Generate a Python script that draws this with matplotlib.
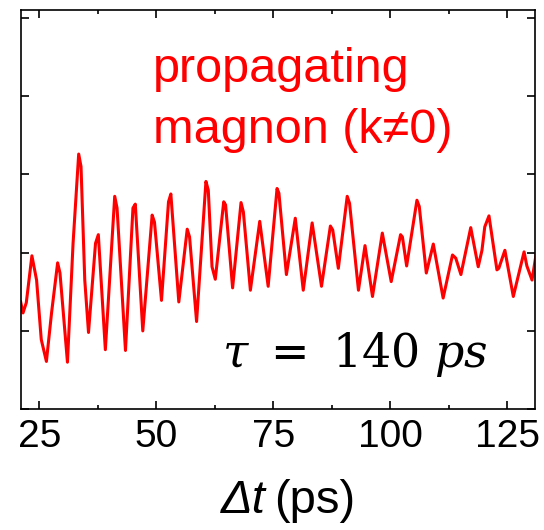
import numpy as np
import matplotlib
matplotlib.use('Agg')
from matplotlib import pyplot as plt
from matplotlib.ticker import MultipleLocator

plt.rcParams['font.family'] = ['Liberation Sans', 'DejaVu Sans']

# time delay (ps) and oscillating signal (arb. units)
delay = [21.0, 21.5, 22.2, 23.4, 24.4, 25.4, 26.5, 27.6, 28.9, 29.4,
         31.0, 32.2, 33.4, 33.9, 34.7, 35.5, 37.0, 37.6, 39.1, 41.1,
         41.6, 43.4, 45.0, 45.5, 47.1, 49.1, 49.6, 51.1, 52.6, 53.1,
         54.8, 56.6, 57.1, 58.6, 60.6, 61.1, 61.9, 62.6, 64.4, 64.8,
         66.3, 68.1, 68.6, 70.1, 72.1, 73.9, 75.8, 76.2, 77.8, 79.7,
         81.4, 83.3, 85.3, 87.2, 87.7, 88.9, 90.8, 91.3, 93.2, 94.6,
         96.2, 98.3, 100.2, 102.2, 102.6, 103.5, 105.7, 106.2, 107.7, 109.2,
         111.3, 113.3, 114.0, 115.1, 117.2, 118.8, 119.6, 120.2, 121.1, 122.8,
         123.2, 124.5, 126.3, 128.6, 129.2, 130.3, 131.2]
signal = [-0.63, -0.77, -0.64, -0.04, -0.35, -1.11, -1.39, -0.77, -0.13, -0.26,
          -1.40, 0.12, 1.26, 1.10, -0.35, -1.02, 0.12, 0.23, -1.24, 0.72,
          0.57, -1.25, 0.57, 0.62, -1.00, 0.48, 0.39, -0.61, 0.65, 0.75,
          -0.63, 0.30, 0.20, -0.88, 0.91, 0.80, -0.18, -0.34, 0.65, 0.61,
          -0.45, 0.64, 0.52, -0.48, 0.40, -0.43, 0.82, 0.76, -0.28, 0.44,
          -0.48, 0.38, -0.43, 0.34, 0.29, -0.20, 0.72, 0.63, -0.48, 0.09,
          -0.56, 0.25, -0.37, 0.23, 0.20, -0.17, 0.67, 0.59, -0.26, 0.11,
          -0.58, -0.03, -0.07, -0.28, 0.32, -0.18, 0.03, 0.33, 0.47, -0.22,
          -0.20, 0.03, -0.56, 0.01, -0.17, -0.35, -0.01]
xticks = [25, 50, 75, 100, 125]
yticks = [-2, -1, 0, 1, 2, 3]

fig = plt.figure(figsize=(5.44, 5.30), dpi=100)
ax = fig.add_axes([0.038, 0.228, 0.946, 0.753])
ax.plot(delay, signal, color='red', lw=2.2)

ax.set_xlim(21, 131)
ax.set_ylim(-2, 3.1)
ax.set_xticks(xticks)
ax.xaxis.set_minor_locator(MultipleLocator(12.5))
ax.set_yticks(yticks)
ax.set_yticklabels([])
ax.tick_params(which='both', direction='in', top=True, right=True,
               width=1.2, labelsize=28, pad=7)
ax.tick_params(which='major', length=6)
ax.tick_params(which='minor', length=3)
for s in ax.spines.values():
    s.set_linewidth(1.2)

# axis title: italic "Δt" followed by upright unit
fig.text(0.488, 0.032, 'Δt', fontsize=34, style='italic',
         ha='right', va='baseline')
fig.text(0.503, 0.032, '(ps)', fontsize=34, ha='left', va='baseline')

fig.text(0.281, 0.845, 'propagating', color='red', fontsize=35,
         ha='left', va='baseline')
fig.text(0.281, 0.730, 'magnon (k≠0)', color='red', fontsize=35,
         ha='left', va='baseline')
fig.text(0.408, 0.307, r'$\tau\ =\ 140\ ps$', fontsize=33,
         math_fontfamily='dejavuserif', ha='left', va='baseline')

fig.savefig('out.png', dpi=100)
